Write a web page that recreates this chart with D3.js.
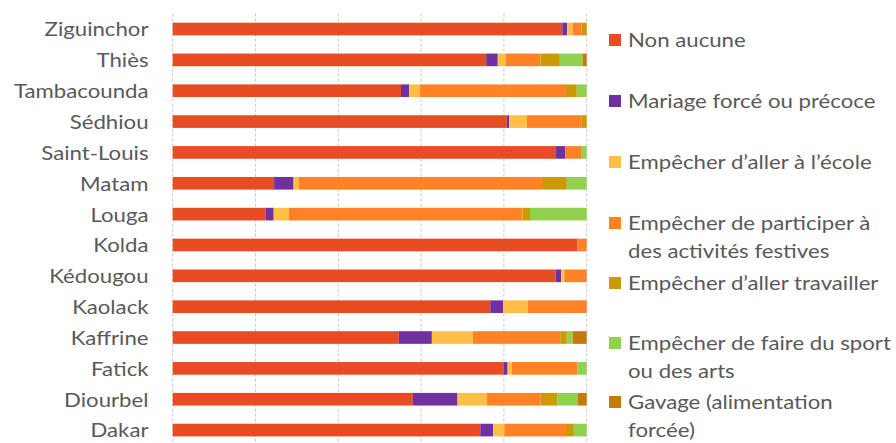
<!DOCTYPE html>
<html>
<head>
<meta charset="utf-8">
<script src="https://cdn.jsdelivr.net/npm/d3@7"></script>
<style>
  html, body { margin: 0; padding: 0; background: #fff; }
  svg { display: block; font-family: Lato, "Open Sans", sans-serif; }
</style>
</head>
<body>
<svg id="chart" width="896" height="443"></svg>
<script>
const regions = ["Ziguinchor","Thiès","Tambacounda","Sédhiou","Saint-Louis","Matam","Louga","Kolda","Kédougou","Kaolack","Kaffrine","Fatick","Diourbel","Dakar"];
const seriesNames = [
  "Non aucune",
  "Mariage forcé ou précoce",
  "Empêcher d’aller à l’école",
  "Empêcher de participer à des activités festives",
  "Empêcher d’aller travailler",
  "Empêcher de faire du sport ou des arts",
  "Gavage (alimentation forcée)"
];
const legendLines = [
  ["Non aucune"],
  ["Mariage forcé ou précoce"],
  ["Empêcher d’aller à l’école"],
  ["Empêcher de participer à", "des activités festives"],
  ["Empêcher d’aller travailler"],
  ["Empêcher de faire du sport", "ou des arts"],
  ["Gavage (alimentation", "forcée)"]
];
const colors = ["#E84C22","#7030A0","#FFBF47","#FF8326","#CC9A06","#92D050","#C47A0B"];

const nonAucune   = [94.1, 75.8, 55.2, 80.7, 92.6, 24.5, 22.5, 97.8, 92.5, 76.7, 54.6, 79.9, 58.0, 74.3];
const mariage     = [ 1.2,  2.8,  2.0,  0.6,  2.2,  4.7,  1.9,  0.0,  1.3,  3.1,  8.0,  1.0, 10.8,  3.1];
const ecole       = [ 1.3,  1.9,  2.6,  4.2,  0.0,  1.2,  3.7,  0.0,  0.8,  6.0,  9.9,  1.0,  7.1,  2.7];
const festives    = [ 2.2,  8.4, 35.3, 13.2,  4.0, 58.8, 56.4,  2.2,  5.4, 14.2, 21.1, 15.9, 13.0, 14.9];
const travailler  = [ 1.2,  4.7,  2.6,  1.3,  0.0,  6.0,  1.8,  0.0,  0.0,  0.0,  1.6,  0.0,  4.0,  1.9];
const sport       = [ 0.0,  5.5,  2.4,  0.0,  1.2,  4.8, 13.7,  0.0,  0.0,  0.0,  1.4,  2.2,  4.9,  3.1];
const gavage      = [ 0.0,  1.0,  0.0,  0.0,  0.0,  0.0,  0.0,  0.0,  0.0,  0.0,  3.4,  0.0,  2.2,  0.0];
const seriesValues = [nonAucune, mariage, ecole, festives, travailler, sport, gavage];
const xTicks = [0, 20, 40, 60, 80, 100];

const data = regions.map((r, i) => {
  const o = { region: r };
  seriesNames.forEach((s, j) => o[s] = seriesValues[j][i]);
  return o;
});
const stacked = d3.stack().keys(seriesNames).offset(d3.stackOffsetExpand)(data);

const svg = d3.select("#chart");
const x = d3.scaleLinear().domain([0, 1]).range([172.7, 586.7]);
const y = d3.scaleBand().domain(regions).range([13.6, 445.5]).paddingInner(0.59).paddingOuter(0.295);
const color = d3.scaleOrdinal().domain(seriesNames).range(colors);
const stretch = 1.2;

// gridlines
svg.append("g").selectAll("line").data(xTicks).join("line")
  .attr("x1", d => x(d / 100)).attr("x2", d => x(d / 100))
  .attr("y1", 13.6).attr("y2", 445.5)
  .attr("stroke", "#C8C8C8").attr("stroke-width", 1)
  .attr("stroke-dasharray", "3,2");

// bars
svg.append("g").selectAll("g").data(stacked).join("g")
  .attr("fill", d => color(d.key))
  .selectAll("rect").data(d => d).join("rect")
  .attr("x", d => x(d[0]))
  .attr("width", d => Math.max(0, x(d[1]) - x(d[0])))
  .attr("y", d => y(d.data.region))
  .attr("height", y.bandwidth());

// category axis labels
const yAxis = d3.axisLeft(y).tickSize(0).tickPadding(0);
const gy = svg.append("g").attr("transform", "translate(148.5,0)").call(yAxis);
gy.select(".domain").remove();
gy.selectAll("text").attr("font-size", 18.5).attr("fill", "#595959")
  .attr("font-family", "Lato, 'Open Sans', sans-serif")
  .attr("x", 0).attr("dy", "0.4em")
  .attr("transform", `scale(${stretch},1)`);

// legend
const legendY = [40, 101, 162, 223, 283, 343, 402];
const lg = svg.append("g").selectAll("g").data(seriesNames).join("g")
  .attr("transform", (d, i) => `translate(609,${legendY[i]})`);
lg.append("rect").attr("x", 0).attr("y", -6).attr("width", 12).attr("height", 12)
  .attr("fill", d => color(d));
lg.append("text").attr("transform", `translate(19,0) scale(${stretch},1)`)
  .attr("fill", "#595959").attr("font-size", 18.5)
  .selectAll("tspan").data((d, i) => legendLines[i]).join("tspan")
  .attr("x", 0).attr("y", (d, k) => k * 28).attr("dy", "0.36em").text(d => d);
</script>
</body>
</html>
